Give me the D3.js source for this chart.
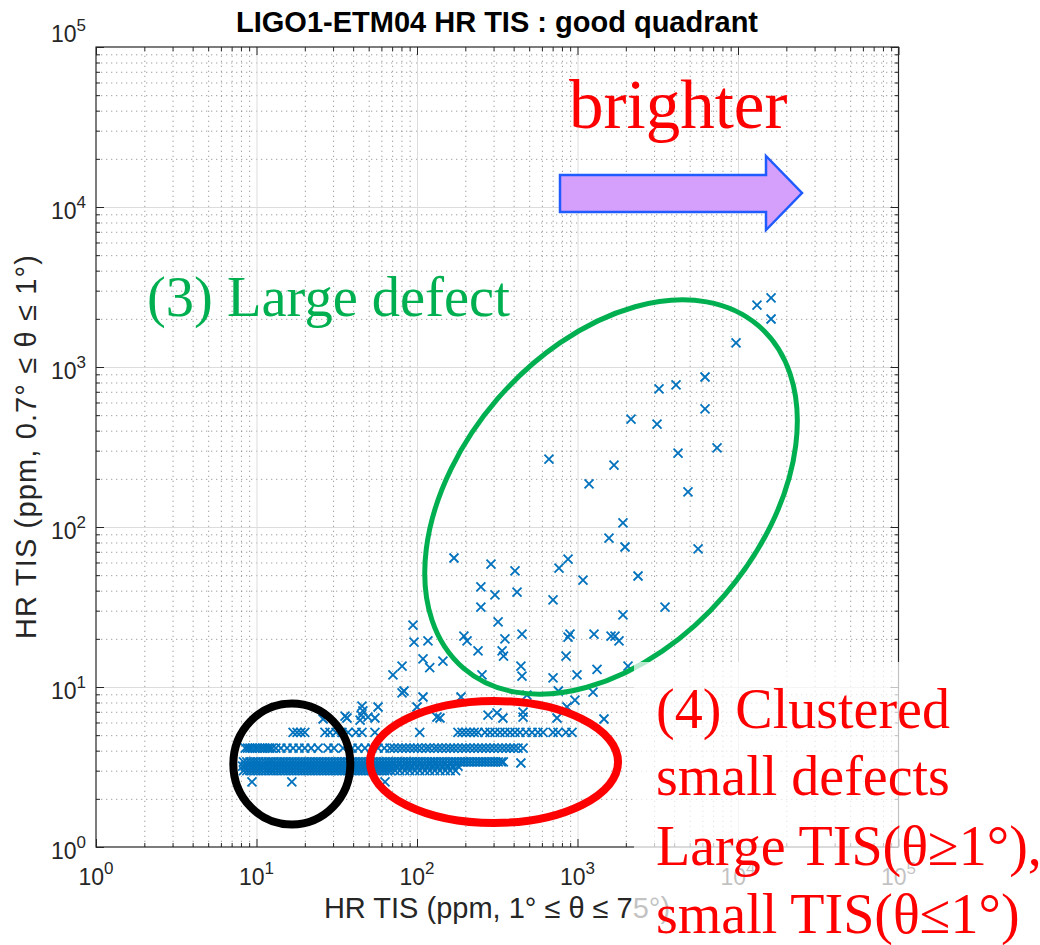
<!DOCTYPE html>
<html>
<head>
<meta charset="utf-8">
<script src="https://cdn.jsdelivr.net/npm/d3@7"></script>
<style>
  body { margin: 0; background: #fff; }
  svg { display: block; }
  .sans { font-family: "Liberation Sans", Arial, Helvetica, sans-serif; }
  .serif { font-family: "Liberation Serif", "Times New Roman", serif; }
</style>
</head>
<body>
<svg id="chart" width="1040" height="945"></svg>
<script>
// values (ppm)
const sparseX = [16070, 13130, 16070, 9720, 6230, 4110, 3220, 6230, 2155, 3130, 7400, 4230, 664, 1688,
  1180, 4880, 1920, 1571, 1977, 5640, 2383, 3510, 1920, 1082, 873, 767, 704, 170, 289, 408, 250, 306,
  420, 250, 320, 353, 451, 339, 346, 240, 196, 205, 873, 898, 848, 1267, 1618, 1713, 1814, 1323, 2064,
  993, 704, 444, 451, 254, 94.4, 95.8, 117, 109, 120, 145, 80.7, 70.8, 80.7, 83.0, 109, 100, 45.4, 46.0,
  44.9, 49.5, 57.2, 35.6, 36.6, 188, 133, 139, 277, 315, 343, 458, 458, 484, 745, 760, 964, 860, 1249,
  1462, 26.0, 9.37, 16.6, 63.2, 444, 44.2, 54.7];
const sparseY = [2700, 2440, 1995, 1413, 866, 772, 729, 547, 473, 440, 312, 290, 266, 244,
  186, 166, 106, 85.3, 75.0, 72.9, 49.4, 31.6, 28.2, 46.6, 63, 55.4, 35.0, 64.0, 58.7, 53.1, 42.2, 37.6,
  39.2, 31.6, 25.5, 20.0, 21.4, 16.8, 15.6, 16.8, 20.8, 19.4, 20.5, 21.4, 15.6, 21.4, 20.8, 20.8, 19.4, 12.9, 13.5,
  11.9, 11.4, 13.5, 11.7, 11.9, 24.4, 19.1, 19.4, 15.0, 13.2, 14.5, 13.5, 11.9, 9.18, 9.44, 8.66, 7.50, 7.6, 7.1,
  6.68, 6.49, 7.50, 6.58, 6.4, 8.66, 6.49, 6.40, 6.68, 6.88, 6.40, 6.96, 6.49, 8.91, 6.40, 9.44, 8.29, 7.50, 9.3,
  6.31, 6.31, 2.55, 2.55, 2.55, 3.35, 6.2, 6.4];

// quantised rows of the dense cluster
const rowLevels = [5.2, 4.15, 3.4, 3.2, 3.0];
const rowA = [16.9, 17.9, 18.9, 20.0, 26.7, 28.7, 31.3, 34.1, 37.2, 41.7, 45.4, 54.7, 104, 180, 191, 202,
  214, 227, 240, 265, 285, 306, 329, 353, 380, 408, 438, 478, 521, 567, 610, 704, 756, 848, 924];
const rowB = [8.5, 8.8, 9.1, 9.4, 9.8, 10.1, 10.5, 10.9, 11.3, 11.7, 12.1, 12.5, 13.2, 14.2, 15.5, 16.9,
  18.4, 20.0, 21.9, 24.2, 27.9, 30.4, 34.6, 39.4, 42.9, 47.4, 52.3, 57.2, 62.6, 67.9, 71.9, 76.2, 80.7,
  85.4, 90.4, 95.8, 101, 107, 114, 120, 128, 135, 143, 152, 161, 170, 180, 191, 202, 214, 227, 240, 254,
  269, 285, 302, 320, 339, 359, 380, 402, 426, 458];
const rowC = [8.3, 8.7, 9.1, 9.5, 9.9, 10.3, 10.8, 11.3, 11.8, 12.3, 12.8, 13.4, 14.0, 14.6, 15.2, 15.9,
  16.6, 17.3, 18.1, 18.9, 19.7, 20.6, 21.5, 22.4, 23.4, 24.4, 25.5, 26.6, 27.8, 29.0, 30.3, 31.6, 33.0,
  34.4, 35.9, 37.5, 39.2, 40.9, 42.7, 44.6, 46.5, 48.6, 50.7, 52.9, 55.2, 57.6, 60.2, 62.8, 65.6, 68.5,
  71.5, 74.6, 77.9, 81.3, 84.9, 88.6, 92.5, 96.6, 101, 105, 110, 115, 120, 125, 130, 136, 142, 148, 155,
  162, 169, 176, 184, 192, 200, 209, 218, 228, 238, 248, 259, 270, 282, 295, 308, 321, 335, 345];
const rowD = [8.2, 8.5, 8.9, 9.3, 9.7, 10.1, 10.6, 11.0, 11.5, 12.0, 12.6, 13.1, 13.7, 14.3, 14.9, 15.6,
  16.3, 17.0, 17.7, 18.5, 19.3, 20.2, 21.0, 21.9, 22.9, 23.9, 25.0, 26.1, 27.2, 28.4, 29.7, 31.0, 32.3,
  33.7, 35.2, 36.7, 38.3, 40.0, 41.8, 43.6, 45.5, 47.5, 49.6, 51.8, 54.0, 56.4, 58.9, 61.5, 64.2, 67.0,
  70, 75, 81, 87, 93, 100, 108, 116, 125, 134, 144, 155, 167, 180];
const rowE = [8.3, 8.7, 9.1, 9.5, 9.9, 10.3, 10.8, 11.3, 11.8, 12.3, 12.8, 13.4, 14.0, 14.6, 15.2, 15.9,
  16.6, 17.3, 18.1, 18.9, 19.7, 20.6, 21.5, 22.4, 23.4, 24.4, 25.5, 26.6, 27.8, 29.0, 30.3, 31.6, 33.0,
  34.4, 35.9, 37.5, 39.2, 40.9, 42.7, 44.6, 46.5, 48.6, 50.7, 52.9, 55.2, 57.6, 60.2, 62.8, 65.6, 68.5,
  73, 78, 84, 90, 97, 104, 112, 120, 129, 139, 150, 161, 174];

const majorTicks = [1, 10, 100, 1000, 10000, 100000];
const tickExp = ['0', '1', '2', '3', '4', '5'];

const svg = d3.select('#chart');
const pLeft = 96, pTop = 47, pRight = 898.5, pBottom = 847;

const x = d3.scaleLog().domain([1, 1e5]).range([pLeft, pRight]);
const y = d3.scaleLog().domain([1, 1e5]).range([pBottom, pTop]);

let minorTicks = [];
majorTicks.slice(0, -1).forEach(d => [2, 3, 4, 5, 6, 7, 8, 9].forEach(k => minorTicks.push(d * k)));

// grid
const grid = svg.append('g');
grid.append('g').attr('transform', `translate(0,${pBottom})`)
  .call(d3.axisBottom(x).tickValues(minorTicks).tickSize(-(pBottom - pTop)).tickFormat(''))
  .call(g => g.select('.domain').remove())
  .selectAll('line').attr('stroke', '#888').attr('stroke-dasharray', '1.3,3.7').attr('opacity', 0.8);
grid.append('g').attr('transform', `translate(${pLeft},0)`)
  .call(d3.axisLeft(y).tickValues(minorTicks).tickSize(-(pRight - pLeft)).tickFormat(''))
  .call(g => g.select('.domain').remove())
  .selectAll('line').attr('stroke', '#888').attr('stroke-dasharray', '1.3,3.7').attr('opacity', 0.8);
grid.append('g').attr('transform', `translate(0,${pBottom})`)
  .call(d3.axisBottom(x).tickValues(majorTicks.slice(1, -1)).tickSize(-(pBottom - pTop)).tickFormat(''))
  .call(g => g.select('.domain').remove())
  .selectAll('line').attr('stroke', '#dcdcdc');
grid.append('g').attr('transform', `translate(${pLeft},0)`)
  .call(d3.axisLeft(y).tickValues(majorTicks.slice(1, -1)).tickSize(-(pRight - pLeft)).tickFormat(''))
  .call(g => g.select('.domain').remove())
  .selectAll('line').attr('stroke', '#dcdcdc');

// points
let points = sparseX.map((v, i) => [v, sparseY[i]]);
[rowA, rowB, rowC, rowD, rowE].forEach((row, r) => row.forEach(v => points.push([v, rowLevels[r]])));

svg.append('g')
  .selectAll('path')
  .data(points)
  .join('path')
  .attr('transform', d => `translate(${x(d[0])},${y(d[1])})`)
  .attr('d', 'M-4.5,-4.5L4.5,4.5M-4.5,4.5L4.5,-4.5')
  .attr('fill', 'none')
  .attr('stroke', '#0072bd')
  .attr('stroke-width', 1.8);

// box and ticks (inward, on all four sides)
const ticks = (axis, tr) => svg.append('g').attr('transform', tr).call(axis)
  .call(g => g.select('.domain').remove())
  .selectAll('line').attr('stroke', '#262626');
[[majorTicks, 8], [minorTicks, 4]].forEach(([vals, len]) => {
  ticks(d3.axisBottom(x).tickValues(vals).tickSize(-len).tickFormat(''), `translate(0,${pBottom})`);
  ticks(d3.axisTop(x).tickValues(vals).tickSize(-len).tickFormat(''), `translate(0,${pTop})`);
  ticks(d3.axisLeft(y).tickValues(vals).tickSize(-len).tickFormat(''), `translate(${pLeft},0)`);
  ticks(d3.axisRight(y).tickValues(vals).tickSize(-len).tickFormat(''), `translate(${pRight},0)`);
});
svg.append('rect')
  .attr('x', pLeft).attr('y', pTop)
  .attr('width', pRight - pLeft).attr('height', pBottom - pTop)
  .attr('fill', 'none').attr('stroke', '#262626').attr('stroke-width', 1.2);

// tick labels 10^n
const xLab = svg.append('g')
  .selectAll('text').data(majorTicks).join('text')
  .attr('class', 'sans').attr('font-size', 23).attr('fill', '#262626')
  .attr('text-anchor', 'middle')
  .attr('x', d => x(d)).attr('y', pBottom + 38);
xLab.append('tspan').text('10');
xLab.append('tspan').attr('dy', -11).attr('font-size', 17).text((d, i) => tickExp[i]);

const yLab = svg.append('g')
  .selectAll('text').data(majorTicks).join('text')
  .attr('class', 'sans').attr('font-size', 23).attr('fill', '#262626')
  .attr('text-anchor', 'end')
  .attr('x', pLeft - 10).attr('y', (d, i) => i == majorTicks.length - 1 ? y(d) - 5 : y(d) + 12);
yLab.append('tspan').text('10');
yLab.append('tspan').attr('dy', -11).attr('font-size', 17).text((d, i) => tickExp[i]);

// axis labels and title
svg.append('text').attr('class', 'sans').attr('font-size', 29).attr('fill', '#262626')
  .attr('text-anchor', 'middle').attr('x', 497).attr('y', 918)
  .text('HR TIS (ppm, 1° ≤ θ ≤ 75°)');
svg.append('text').attr('class', 'sans').attr('font-size', 29).attr('fill', '#262626')
  .attr('text-anchor', 'middle').attr('transform', 'translate(36,447) rotate(-90)')
  .attr('textLength', 384).attr('lengthAdjust', 'spacing')
  .text('HR TIS (ppm, 0.7° ≤ θ ≤ 1°)');
svg.append('text').attr('class', 'sans').attr('font-size', 29).attr('font-weight', 'bold')
  .attr('fill', '#000').attr('text-anchor', 'middle').attr('x', 497).attr('y', 32)
  .text('LIGO1-ETM04 HR TIS : good quadrant');

// annotations
const ann = svg.append('g');
ann.append('ellipse')
  .attr('cx', x(16.6)).attr('cy', y(3.3)).attr('rx', 58.5).attr('ry', 60.5)
  .attr('fill', 'none').attr('stroke', '#000').attr('stroke-width', 8);
ann.append('ellipse')
  .attr('cx', x(302)).attr('cy', y(3.4)).attr('rx', 124).attr('ry', 61)
  .attr('fill', 'none').attr('stroke', '#ff0000').attr('stroke-width', 8);
ann.append('ellipse')
  .attr('cx', 0).attr('cy', 0).attr('rx', 226).attr('ry', 150)
  .attr('transform', `translate(${x(1618)},${y(154)}) rotate(-49.2)`)
  .attr('fill', 'none').attr('stroke', '#00b050').attr('stroke-width', 5);

// arrow "brighter"
ann.append('path')
  .attr('d', 'M560,175H766V156L802,193L766,230V212H560Z')
  .attr('fill', '#d5a0fb').attr('stroke', '#1f5bff').attr('stroke-width', 2.5)
  .attr('stroke-linejoin', 'miter');
ann.append('text').attr('class', 'serif').attr('font-size', 69).attr('fill', '#ff0000')
  .attr('x', 569).attr('y', 128).text('brighter');
ann.append('text').attr('class', 'serif').attr('font-size', 56.5).attr('fill', '#00b050')
  .attr('x', 147).attr('y', 316).text('(3) Large defect');

// translucent box behind the red note
ann.append('rect').attr('x', 634).attr('y', 662).attr('width', 406).attr('height', 283)
  .attr('fill', '#fff').attr('opacity', 0.72);

const note = ann.append('text').attr('class', 'serif').attr('font-size', 56).attr('fill', '#ff0000');
['(4) Clustered', 'small defects', 'Large TIS(θ≥1°),', 'small TIS(θ≤1°)'].forEach((s, i) => {
  note.append('tspan').attr('x', 656).attr('y', [728, 795, 865, 933][i]).text(s);
});
</script>
</body>
</html>
